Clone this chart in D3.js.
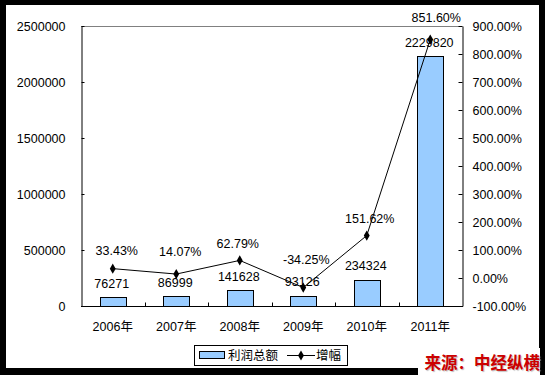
<!DOCTYPE html>
<html><head><meta charset="utf-8">
<script src="https://cdn.jsdelivr.net/npm/d3@7/dist/d3.min.js"></script>
<style>
html,body{margin:0;padding:0;background:#000;}
svg{display:block;}
text{font-family:"Liberation Sans","Noto Sans CJK SC",Arial,sans-serif;font-size:12.5px;fill:#000;}
</style></head>
<body>
<script>
const categories = ["2006年","2007年","2008年","2009年","2010年","2011年"];
const profit = [76271, 86999, 141628, 93126, 234324, 2229820];
const growth = [33.43, 14.07, 62.79, -34.25, 151.62, 851.60];
const leftTicks = [0, 500000, 1000000, 1500000, 2000000, 2500000];
const rightTicks = [-100, 0, 100, 200, 300, 400, 500, 600, 700, 800, 900];
const seriesNames = ["利润总额", "增幅"];
const sourceText = "来源：中经纵横";

// label placement tweaks (pixels)
const growthLabelDx = [4, 4, -2, 3, 3, 6];
const growthLabelDy = [-18, -23, -17, -28, -17, -22];

const W = 545, H = 375;
const svg = d3.select("body").append("svg").attr("width", W).attr("height", H);

svg.append("rect").attr("x", 6).attr("y", 5).attr("width", 533).attr("height", 363).attr("fill", "#fff");

const L = 81, R = 462, T = 26, B = 306;
const x = d3.scaleBand().domain(categories).range([L, R]).paddingInner(0.585).paddingOuter(0.2925);
const xb = d3.scaleBand().domain(categories).range([L, R]);
const y = d3.scaleLinear().domain([0, 2500000]).range([B, T]);
const y2 = d3.scaleLinear().domain([-100, 900]).range([B, T]);

// top border
svg.append("line").attr("x1", L).attr("x2", R).attr("y1", T + 0.5).attr("y2", T + 0.5).attr("stroke", "#808080");

// bars
svg.selectAll("rect.bar").data(profit).enter().append("rect").attr("class", "bar")
  .attr("x", (d, i) => Math.round(xb(categories[i]) + xb.bandwidth() / 2 - 13) + 0.5)
  .attr("width", 26)
  .attr("y", d => Math.round(y(d)) + 0.5)
  .attr("height", d => B - Math.round(y(d)))
  .attr("fill", "#99CCFF").attr("stroke", "#000").attr("stroke-width", 1);

// left axis
const gl = svg.append("g").attr("transform", `translate(${L + 0.5},0)`)
  .call(d3.axisLeft(y).tickValues(leftTicks).tickFormat(d3.format("d")).tickSizeInner(-3).tickSizeOuter(0).tickPadding(16));
gl.select(".domain").attr("stroke", "#000");
gl.selectAll(".tick line").attr("stroke", "#000");
gl.selectAll("text").attr("font-size", null).attr("font-family", null).attr("dy", "0.36em");

// right axis
const gr = svg.append("g").attr("transform", `translate(${R + 0.5},0)`)
  .call(d3.axisRight(y2).tickValues(rightTicks).tickFormat(d => d.toFixed(2) + "%").tickSizeInner(-4).tickSizeOuter(0).tickPadding(10));
gr.select(".domain").attr("stroke", "#000");
gr.selectAll(".tick line").attr("stroke", "#000");
gr.selectAll("text").attr("font-size", null).attr("font-family", null).attr("dy", "0.36em");

// bottom axis
const gb = svg.append("g").attr("transform", `translate(0,${B + 0.5})`);
gb.append("line").attr("x1", L).attr("x2", R + 1).attr("stroke", "#000");
gb.selectAll("line.tk").data(categories.slice(1)).enter().append("line").attr("class", "tk")
  .attr("x1", d => Math.round(xb(d)) + 0.5).attr("x2", d => Math.round(xb(d)) + 0.5)
  .attr("y1", 0).attr("y2", -4).attr("stroke", "#000");
gb.selectAll("text").data(categories).enter().append("text")
  .attr("x", d => xb(d) + xb.bandwidth() / 2).attr("y", 24).attr("text-anchor", "middle").text(d => d);

// bar labels
svg.selectAll("text.bl").data(profit).enter().append("text").attr("class", "bl")
  .attr("x", (d, i) => xb(categories[i]) + xb.bandwidth() / 2 - 1)
  .attr("y", d => y(d) - 9.5).attr("text-anchor", "middle").text(d => d);

// growth line
const cx = i => xb(categories[i]) + xb.bandwidth() / 2;
const line = d3.line().x((d, i) => cx(i)).y(d => y2(d));
svg.append("path").datum(growth).attr("d", line).attr("fill", "none").attr("stroke", "#000").attr("stroke-width", 1);
const diamond = d3.symbol().type(d3.symbolDiamond).size(30);
svg.selectAll("path.mk").data(growth).enter().append("path").attr("class", "mk")
  .attr("d", diamond).attr("transform", (d, i) => `translate(${cx(i)},${y2(d)})`).attr("fill", "#000");
svg.selectAll("text.gl").data(growth).enter().append("text").attr("class", "gl")
  .attr("x", (d, i) => cx(i) + growthLabelDx[i])
  .attr("y", (d, i) => y2(d) + growthLabelDy[i] + 4.5)
  .attr("text-anchor", "middle").text(d => d.toFixed(2) + "%");

// legend
const lg = svg.append("g");
lg.append("rect").attr("x", 194.5).attr("y", 345.5).attr("width", 153).attr("height", 20).attr("fill", "#fff").attr("stroke", "#000");
lg.append("rect").attr("x", 199.5).attr("y", 351.5).attr("width", 25).attr("height", 7).attr("fill", "#99CCFF").attr("stroke", "#000");
lg.append("text").attr("x", 228).attr("y", 360).text(seriesNames[0]);
lg.append("line").attr("x1", 287).attr("x2", 315).attr("y1", 355.5).attr("y2", 355.5).attr("stroke", "#000");
lg.append("path").attr("d", diamond).attr("transform", "translate(301,355.5)").attr("fill", "#000");
lg.append("text").attr("x", 316).attr("y", 360).text(seriesNames[1]);

// source box
svg.append("rect").attr("x", 418).attr("y", 348).attr("width", 122).attr("height", 27).attr("fill", "#fff");
svg.append("text").attr("x", 540).attr("y", 369).attr("text-anchor", "end")
  .style("font-family", "'Noto Sans CJK SC',sans-serif").style("font-size", "16.5px").style("font-weight", "bold")
  .style("fill", "#cc0000").style("text-shadow", "1px 1px 1px #bbb").text(sourceText);
</script>
</body></html>
